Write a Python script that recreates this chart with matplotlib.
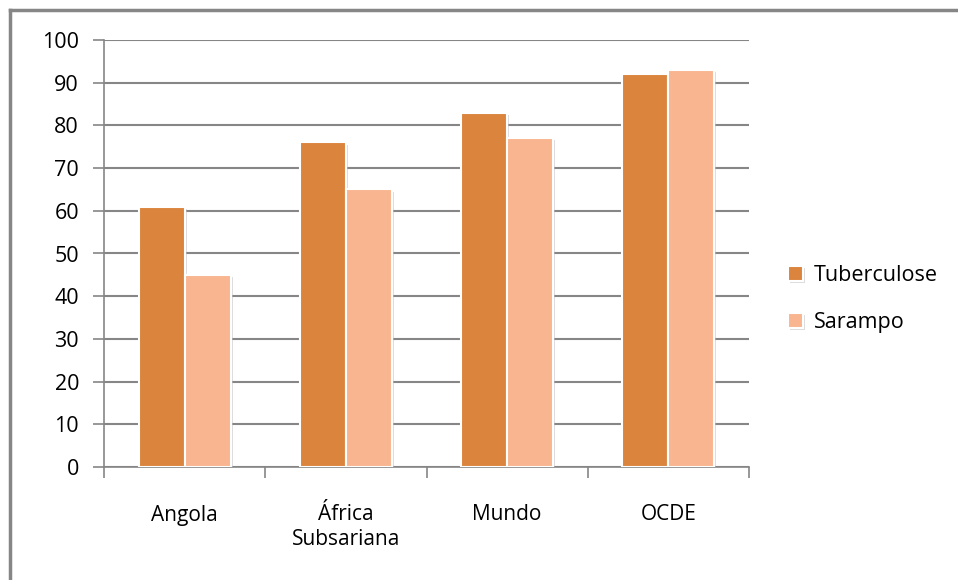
import matplotlib.pyplot as plt
import matplotlib.patheffects as pe
from matplotlib.lines import Line2D
import numpy as np

categories = ['Angola', 'África\nSubsariana', 'Mundo', 'OCDE']
tuberculose = [61, 76, 83, 92]
sarampo = [45, 65, 77, 93]

plt.rcParams['font.family'] = ['Open Sans', 'DejaVu Sans']

fig = plt.figure(figsize=(9.58, 5.8), dpi=100)
ax = fig.add_axes([104 / 958, 113 / 580, 645 / 958, 427 / 580])

grey = '#868686'
x = np.arange(len(categories))
w = 0.285
shadow = [pe.SimplePatchShadow(offset=(1.5, -1.5), shadow_rgbFace='#bbbbbb', alpha=0.5), pe.Normal()]
b1 = ax.bar(x - w / 2, tuberculose, w, color='#DB843D', edgecolor='white', linewidth=1.5,
            label='Tuberculose', zorder=3)
b2 = ax.bar(x + w / 2, sarampo, w, color='#F8B58F', edgecolor='white', linewidth=1.5,
            label='Sarampo', zorder=3)
for b in list(b1) + list(b2):
    b.set_path_effects(shadow)

ax.set_xlim(-0.5, len(categories) - 0.5)
ax.set_ylim(0, 100)
ax.set_yticks(np.arange(0, 101, 10))
ax.yaxis.grid(True, color=grey, linewidth=1.5)
ax.set_axisbelow(True)

ax.set_xticks(x)
ax.set_xticklabels(categories, fontsize=15, linespacing=1.2)
ax.set_xticks(np.arange(-0.5, len(categories), 1), minor=True)
ax.tick_params(axis='x', which='major', length=0, pad=27)
ax.tick_params(axis='x', which='minor', length=8, color=grey, width=1.2)
ax.tick_params(axis='y', length=8, color=grey, width=1.2, labelsize=15.5, pad=10)

for s in ['top', 'right']:
    ax.spines[s].set_visible(False)
for s in ['left', 'bottom']:
    ax.spines[s].set_color(grey)
    ax.spines[s].set_linewidth(1.2)

ax.legend(loc='center left', bbox_to_anchor=(1.03, 0.393), frameon=False, fontsize=15.5,
          handlelength=0.7, handleheight=0.7, labelspacing=1.2, handletextpad=0.5)

fig.add_artist(Line2D([10 / 958, 10 / 958], [0, 570 / 580], color=grey, linewidth=2.5))
fig.add_artist(Line2D([10 / 958, 1], [570 / 580, 570 / 580], color=grey, linewidth=2.5))

fig.savefig('out.png', dpi=100)
